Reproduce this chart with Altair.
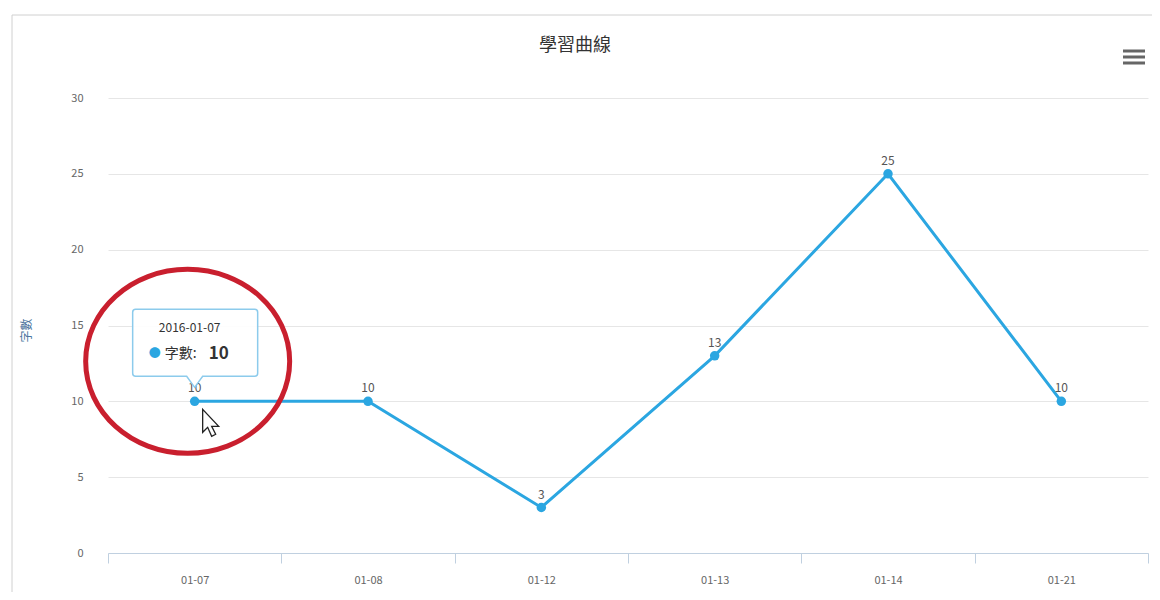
import altair as alt
import pandas as pd

dates = ["01-07", "01-08", "01-12", "01-13", "01-14", "01-21"]
values = [10, 10, 3, 13, 25, 10]
y_ticks = [0, 5, 10, 15, 20, 25, 30]
title_text = "學習曲線"
y_title = "字數"
tip_date = "2016-01-07"
tip_series = "字數:"
tip_index = 0

FONT = "Noto Sans CJK TC"
BLUE = "#2ba6e1"

df = pd.DataFrame({"date": dates, "value": values})
tip = pd.DataFrame({"date": [dates[tip_index]], "value": [values[tip_index]],
                    "header": [tip_date], "series": [tip_series],
                    "num": [str(values[tip_index])]})
one = pd.DataFrame({"a": [0]})

x_enc = alt.X("date:N", sort=dates, title=None,
              scale=alt.Scale(type="band", paddingInner=0, paddingOuter=0),
              axis=alt.Axis(tickBand="extent", grid=False, domainColor="#c0d0e0",
                            tickColor="#c0d0e0", tickSize=10, labelPadding=11,
                            labelColor="#666666", labelFontSize=11, labelFont=FONT,
                            labelAngle=0))
y_enc = alt.Y("value:Q", title=y_title,
              scale=alt.Scale(domain=[0, 30], nice=False),
              axis=alt.Axis(values=y_ticks, domain=False, ticks=False, grid=True,
                            gridColor="#e6e6e6", labelPadding=25, labelColor="#666666",
                            labelFontSize=11, labelFont=FONT, titleFont=FONT,
                            titleFontSize=12, titleColor="#4d759e", titleFontWeight="normal",
                            titleX=-75, titleY=232, titleAngle=270))

base = alt.Chart(df)

frame = alt.Chart(one).mark_rect(fillOpacity=0, stroke="#d0d0d0", strokeWidth=1).encode(
    x=alt.value(-96), x2=alt.value(1060), y=alt.value(-83), y2=alt.value(520))

line = base.mark_line(color=BLUE, strokeWidth=3).encode(x=x_enc, y=y_enc)
pts = base.mark_point(filled=True, color=BLUE, size=90, opacity=1).encode(x="date:N", y="value:Q")
labels = base.mark_text(baseline="bottom", dy=-6, fontSize=12, color="#555555", font=FONT).encode(
    x="date:N", y="value:Q", text="value:Q")

tip_path = ("M -59 -92 L 60 -92 Q 63 -92 63 -89 L 63 -28 Q 63 -25 60 -25 L 8 -25 L 0 -14 "
            "L -8 -25 L -59 -25 Q -62 -25 -62 -28 L -62 -89 Q -62 -92 -59 -92 Z")
tip_box = alt.Chart(tip).mark_point(shape=tip_path, size=4, filled=True, fill="white",
                                    fillOpacity=0.9, stroke="#8ccbec", strokeWidth=1.5,
                                    opacity=1).encode(x="date:N", y="value:Q")
tip_h = alt.Chart(tip).mark_text(dx=-5, dy=-73, fontSize=12, color="#333333", font=FONT).encode(
    x="date:N", y="value:Q", text="header:N")
tip_dot = alt.Chart(tip).mark_text(dx=-40, dy=-47, fontSize=12, color=BLUE, font=FONT).encode(
    x="date:N", y="value:Q", text=alt.value("●"))
tip_s = alt.Chart(tip).mark_text(dx=-30, dy=-47, align="left", fontSize=14, color="#333333",
                                 font=FONT).encode(x="date:N", y="value:Q", text="series:N")
tip_n = alt.Chart(tip).mark_text(dx=14, dy=-47, align="left", fontSize=17, fontWeight="bold",
                                 color="#333333", font=FONT).encode(x="date:N", y="value:Q", text="num:N")

ellipse_path = "M -109 -40 A 102 92 0 1 0 95 -40 A 102 92 0 1 0 -109 -40 Z"
ellipse = alt.Chart(tip).mark_point(shape=ellipse_path, size=4, filled=False, stroke="#c91f2e",
                                    strokeWidth=5, opacity=1).encode(x="date:N", y="value:Q")
cursor_path = "M 8 8 L 8 31 L 13 26 L 17 35 L 21 33 L 17 25 L 24 25 Z"
cursor = alt.Chart(tip).mark_point(shape=cursor_path, size=4, filled=True, fill="white",
                                   stroke="#222222", strokeWidth=1.3, opacity=1).encode(
    x="date:N", y="value:Q")

menu_path = "M -11 -6 L 11 -6 M -11 0 L 11 0 M -11 6 L 11 6"
menu = alt.Chart(one).mark_point(shape=menu_path, size=4, filled=False, stroke="#666666",
                                 strokeWidth=3, opacity=1).encode(x=alt.value(1026), y=alt.value(-41))

title = alt.Chart(one).mark_text(fontSize=18, color="#333333", font=FONT).encode(
    x=alt.value(467), y=alt.value(-52), text=alt.value(title_text))

chart = alt.layer(frame, line, pts, labels, tip_box, tip_h, tip_dot, tip_s, tip_n,
                  ellipse, cursor, menu, title).properties(
    width=1040, height=455,
    autosize=alt.AutoSizeParams(type="none"),
    padding={"left": 100, "top": 90, "right": 4, "bottom": 39},
    background="white",
).configure_view(strokeWidth=0, stroke="transparent")

chart.save("out.html", embed_options={"renderer": "svg", "actions": False})
